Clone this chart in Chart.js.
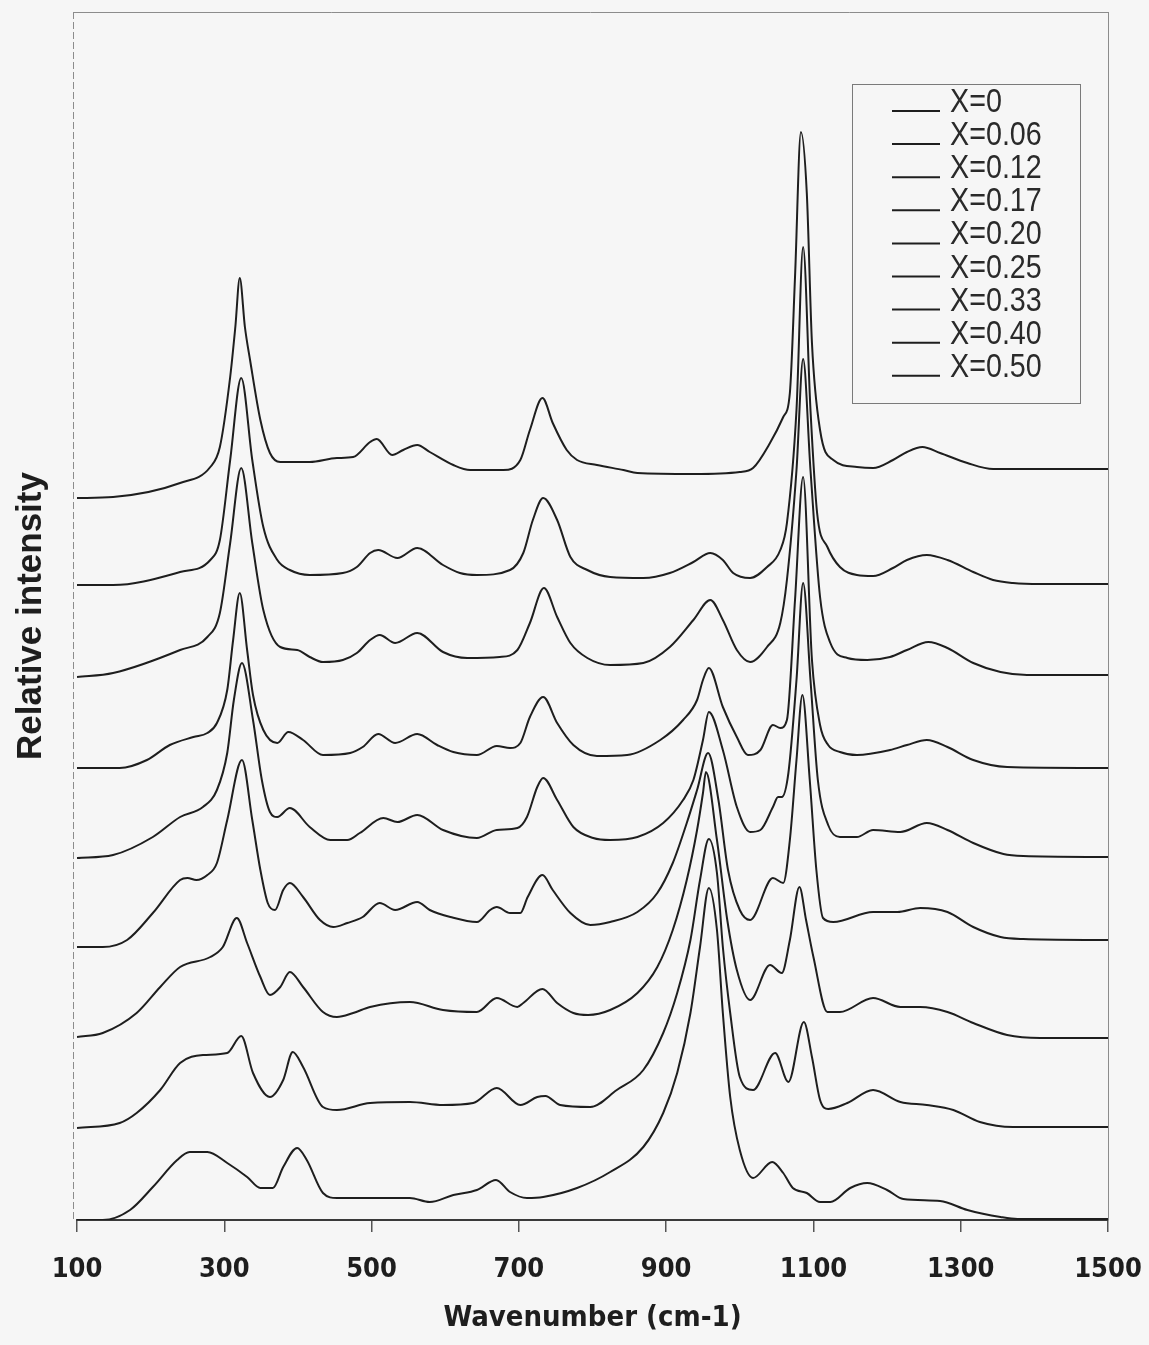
<!DOCTYPE html>
<html>
<head>
<meta charset="utf-8">
<title>Raman spectra</title>
<script src="https://cdn.jsdelivr.net/npm/chart.js@4.4.1/dist/chart.umd.min.js"></script>
<style>
  html, body { margin: 0; padding: 0; background: #f6f6f6; overflow: hidden; }
  #wrap { width: 1149px; height: 1345px; }
</style>
</head>
<body>
<div id="wrap"><canvas id="chart" width="1149" height="1345"></canvas></div>
<script>
// tick values on the wavenumber axis
const xTicks = [100, 300, 500, 700, 900, 1100, 1300, 1500];
const seriesLabels = ['X=0', 'X=0.06', 'X=0.12', 'X=0.17', 'X=0.20', 'X=0.25', 'X=0.33', 'X=0.40', 'X=0.50'];

// [wavenumber, stacked relative intensity]
const x0 = [[100,722],[149,723],[240,737],[281,753],[294,773],[308,843],[315,893],[321,942],[328,893],[335,860],[349,800],[362,767],[376,758],[416,758],[453,762],[475,763],[498,778],[507,781],[528,765],[543,770],[562,775],[579,768],[611,755],[634,750],[679,750],[702,760],[715,790],[732,822],[746,797],[765,770],[779,760],[806,755],[842,750],[861,747],[937,746],[1000,748],[1018,752],[1041,777],[1059,803],[1068,827],[1075,943],[1083,1088],[1091,1027],[1098,877],[1109,790],[1127,760],[1159,753],[1181,752],[1208,760],[1227,768],[1248,773],[1272,767],[1309,757],[1344,751],[1500,751]];
const x006 = [[100,635],[149,635],[240,648],[281,660],[294,680],[308,760],[323,842],[338,760],[353,693],[372,660],[389,650],[416,645],[461,647],[480,653],[498,667],[509,670],[535,662],[562,672],[597,655],[620,647],[643,645],[688,650],[706,667],[719,700],[733,722],[752,700],[770,663],[793,650],[824,643],[869,642],[905,647],[937,658],[960,667],[977,660],[991,647],[1014,642],[1037,653],[1055,670],[1064,697],[1077,810],[1086,973],[1096,810],[1105,707],[1119,673],[1136,653],[1159,645],[1181,644],[1208,652],[1227,660],[1254,665],[1282,660],[1317,648],[1344,640],[1371,637],[1408,636],[1500,636]];
const x012 = [[100,543],[149,547],[240,570],[277,583],[294,607],[308,677],[323,752],[338,677],[353,610],[376,573],[399,570],[416,563],[434,558],[461,560],[480,567],[498,580],[511,585],[532,577],[562,587],[597,568],[630,562],[674,563],[698,570],[715,597],[734,632],[752,603],[770,577],[793,562],[824,555],[869,557],[905,573],[937,600],[960,620],[977,600],[996,570],[1014,558],[1037,573],[1055,597],[1064,640],[1077,750],[1086,861],[1096,750],[1109,623],[1123,577],[1146,562],[1173,560],[1204,563],[1227,570],[1256,578],[1282,572],[1317,557],[1354,548],[1390,545],[1500,545]];
const x017 = [[100,452],[158,452],[195,460],[226,475],[258,483],[277,487],[290,497],[304,530],[312,580],[321,627],[331,570],[339,525],[353,490],[372,477],[387,488],[407,480],[434,465],[471,467],[488,473],[509,486],[532,477],[562,486],[589,475],[611,468],[643,465],[670,474],[688,472],[702,477],[715,503],[733,523],[752,497],[774,475],[806,464],[847,465],[892,480],[923,500],[942,520],[950,540],[958,552],[977,513],[996,483],[1011,465],[1028,470],[1045,495],[1055,492],[1064,500],[1075,620],[1086,743],[1098,560],[1109,495],[1120,475],[1136,468],[1159,465],[1204,470],[1227,475],[1254,480],[1282,473],[1317,460],[1363,453],[1500,452]];
const x020 = [[100,362],[149,365],[203,383],[240,403],[271,413],[290,430],[304,467],[313,520],[324,557],[339,500],[351,440],[362,408],[372,403],[389,412],[416,393],[444,380],[467,380],[484,387],[516,402],[535,398],[562,405],[597,390],[643,382],[670,390],[698,392],[711,403],[725,433],[733,442],[752,420],[774,393],[801,382],[824,380],[861,383],[896,397],[923,420],[937,440],[950,480],[958,508],[977,470],[996,413],[1014,388],[1028,390],[1045,413],[1052,423],[1057,423],[1066,447],[1077,540],[1086,637],[1096,540],[1106,440],[1120,395],[1136,383],[1159,383],[1181,390],[1218,388],[1254,397],[1282,390],[1317,377],[1358,366],[1385,364],[1500,363]];
const x025 = [[100,273],[135,273],[168,280],[203,307],[240,340],[250,342],[262,340],[277,345],[290,357],[304,400],[324,460],[338,400],[349,350],[359,317],[369,310],[380,330],[389,337],[407,323],[430,300],[448,293],[467,297],[488,303],[511,317],[532,310],[562,318],[579,310],[607,303],[643,298],[661,310],[670,313],[688,307],[702,307],[712,323],[732,345],[746,330],[770,307],[797,295],[824,298],[861,308],[888,327],[909,357],[928,397],[942,430],[957,467],[971,420],[984,350],[1000,310],[1014,300],[1045,342],[1059,337],[1068,380],[1077,460],[1085,525],[1095,440],[1104,350],[1113,302],[1127,298],[1181,308],[1214,308],[1245,312],[1282,308],[1317,293],[1354,283],[1385,281],[1500,280]];
const x033 = [[100,183],[135,187],[181,207],[213,233],[240,253],[281,263],[298,273],[317,302],[331,277],[349,243],[362,225],[376,233],[389,248],[407,233],[434,208],[453,203],[475,207],[498,213],[552,218],[597,210],[643,208],[670,222],[698,213],[706,217],[732,231],[752,217],[774,207],[794,205],[824,210],[861,227],[888,253],[909,290],[928,340],[942,390],[950,427],[954,448],[969,380],[983,300],[996,250],[1014,220],[1041,255],[1057,247],[1068,280],[1081,333],[1090,300],[1100,263],[1119,208],[1136,208],[1181,222],[1218,213],[1245,213],[1282,208],[1317,197],[1363,185],[1408,182],[1500,182]];
const x040 = [[100,92],[158,97],[181,107],[213,130],[240,157],[271,165],[304,167],[323,184],[339,147],[362,123],[380,140],[393,168],[407,153],[434,113],[453,110],[498,117],[552,118],[597,115],[638,117],[670,132],[702,115],[725,123],[736,124],[756,115],[797,113],[833,130],[869,150],[896,187],[915,227],[933,280],[946,340],[958,381],[969,347],[977,273],[987,207],[1000,143],[1018,130],[1048,167],[1066,138],[1087,198],[1098,163],[1109,120],[1120,111],[1146,117],[1181,130],[1218,118],[1254,115],[1290,110],[1326,98],[1371,93],[1500,93]];
const x050 = [[100,0],[135,0],[172,10],[203,33],[236,60],[253,68],[277,68],[304,57],[331,43],[349,32],[366,32],[380,53],[399,72],[412,60],[434,27],[453,22],[498,22],[552,22],[579,18],[611,25],[643,30],[669,40],[688,28],[711,22],[733,23],[779,32],[824,48],[869,73],[896,107],[915,147],[933,207],[946,273],[958,332],[969,290],[977,207],[987,123],[1000,70],[1018,42],[1044,58],[1059,47],[1072,32],[1091,27],[1109,18],[1123,18],[1150,32],[1173,37],[1200,30],[1222,21],[1272,19],[1309,10],[1354,3],[1377,1],[1500,1]];

const allSeries = [x0, x006, x012, x017, x020, x025, x033, x040, x050];

const narrow = "'Liberation Sans Narrow', 'DejaVu Sans Condensed', 'Liberation Sans', Arial, sans-serif";
const plain = "'Liberation Sans', Arial, sans-serif";

// gray page + plot frame (top, right, dashed left)
const framePlugin = {
  id: 'frame',
  beforeDraw(chart) {
    const ctx = chart.ctx;
    ctx.save();
    ctx.fillStyle = '#f6f6f6';
    ctx.fillRect(0, 0, chart.width, chart.height);
    ctx.restore();
  },
  afterDraw(chart) {
    const { ctx, chartArea: a } = chart;
    ctx.save();
    ctx.strokeStyle = '#8c8c8c';
    ctx.lineWidth = 1;
    ctx.beginPath();
    ctx.moveTo(a.left - 4, a.top + 0.5);
    ctx.lineTo(a.right, a.top + 0.5);
    ctx.moveTo(a.right + 0.5, a.top);
    ctx.lineTo(a.right + 0.5, a.bottom);
    ctx.stroke();
    ctx.setLineDash([7, 3]);
    ctx.beginPath();
    ctx.moveTo(a.left - 3.5, a.top);
    ctx.lineTo(a.left - 3.5, a.bottom);
    ctx.stroke();
    ctx.restore();
  }
};

// boxed legend inside the plot, top right
const boxLegend = {
  id: 'boxLegend',
  afterDraw(chart) {
    const ctx = chart.ctx;
    ctx.save();
    ctx.strokeStyle = '#7a7a7a';
    ctx.lineWidth = 1;
    ctx.strokeRect(852.5, 84.5, 228, 319);
    chart.data.datasets.forEach((ds, i) => {
      const y = 103 + i * 33.1;
      ctx.strokeStyle = ds.borderColor;
      ctx.lineWidth = 2;
      ctx.beginPath();
      ctx.moveTo(892, y + 8);
      ctx.lineTo(940, y + 8);
      ctx.stroke();
      // the scanned labels are narrow, so squeeze them a little
      ctx.save();
      ctx.translate(950, y);
      ctx.scale(0.87, 1);
      ctx.font = '33px ' + plain;
      ctx.textBaseline = 'middle';
      ctx.fillStyle = '#2a2a2a';
      ctx.fillText(ds.label, 0, 0);
      ctx.restore();
    });
    ctx.restore();
  }
};

const datasets = allSeries.map((pts, i) => ({
  label: seriesLabels[i],
  data: pts.map(p => ({ x: p[0], y: p[1] })),
  borderColor: '#1e1e1e',
  borderWidth: 2,
  pointRadius: 0,
  fill: false,
  cubicInterpolationMode: 'monotone'
}));

new Chart(document.getElementById('chart'), {
  type: 'line',
  data: { datasets },
  options: {
    responsive: false,
    devicePixelRatio: 1,
    animation: false,
    layout: { padding: { top: 12, right: 41, left: 0, bottom: 0 } },
    plugins: {
      legend: { display: false },
      tooltip: { enabled: false }
    },
    scales: {
      x: {
        type: 'linear',
        min: 100,
        max: 1500,
        afterBuildTicks: s => { s.ticks = xTicks.map(v => ({ value: v })); },
        afterFit: s => {
          s.height = 125;
          s.paddingLeft = 0;
          s.paddingRight = 0;
        },
        grid: { display: true, drawOnChartArea: false, drawTicks: true, tickLength: 12, color: '#555', lineWidth: 1.5 },
        border: { display: true, color: '#3a3a3a', width: 2 },
        ticks: {
          autoSkip: false,
          maxRotation: 0,
          padding: 22,
          color: '#1e1e1e',
          font: { family: narrow, size: 27, weight: 'bold' },
          callback: v => String(v)
        },
        title: {
          display: true,
          text: 'Wavenumber (cm-1)',
          color: '#1e1e1e',
          font: { family: narrow, size: 29, weight: 'bold' },
          padding: { top: 0, bottom: 9 }
        }
      },
      y: {
        type: 'linear',
        min: 0,
        max: 1208,
        afterFit: s => { s.width = 77; },
        grid: { display: false },
        border: { display: false },
        ticks: { display: false },
        title: {
          display: true,
          text: 'Relative intensity',
          color: '#1e1e1e',
          font: { family: plain, size: 35, weight: 'bold' },
          padding: { top: 10, bottom: 0 }
        }
      }
    }
  },
  plugins: [framePlugin, boxLegend]
});
</script>
</body>
</html>
